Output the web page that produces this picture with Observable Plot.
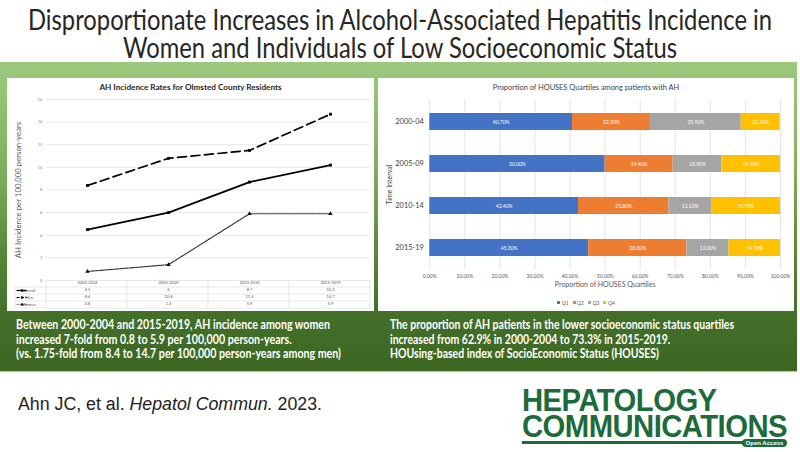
<!DOCTYPE html>
<html><head><meta charset="utf-8">
<script src="https://cdn.jsdelivr.net/npm/d3@7"></script>
<script src="https://cdn.jsdelivr.net/npm/@observablehq/plot@0.6"></script>
<style>
body{margin:0;background:#fff;}
#root{position:relative;width:800px;height:452px;overflow:hidden;background:#fff;font-family:Lato,"Open Sans",sans-serif;}
.panel{position:absolute;background:#fff;}
.panel svg{position:absolute;left:0;overflow:visible;}
</style></head><body><div id="root"></div>
<script>
// ---------- data ----------
const periods = ["2000-2004", "2005-2009", "2010-2014", "2015-2019"];
const seriesNames = ["Overall", "Men", "Women"];
const overall = [4.5, 6, 8.7, 10.2];
const men = [8.4, 10.8, 11.5, 14.7];
const women = [0.8, 1.4, 5.9, 5.9];
const yTicks = [0, 2, 4, 6, 8, 10, 12, 14, 16];

const intervals = ["2000-04", "2005-09", "2010-14", "2015-19"];
const quartiles = ["Q1", "Q2", "Q3", "Q4"];
const q1 = [40.7, 50.0, 42.4, 45.3];
const q2 = [22.2, 19.4, 25.8, 28.0];
const q3 = [25.9, 13.9, 12.1, 12.0];
const q4 = [11.1, 16.7, 19.7, 14.7];
const xTicks = [0, 10, 20, 30, 40, 50, 60, 70, 80, 90, 100];

// ---------- styles ----------
const lineStyles = {
  Overall: {stroke: "#000", strokeWidth: 1.7, strokeDasharray: null, symbol: "square"},
  Men: {stroke: "#000", strokeWidth: 1.7, strokeDasharray: "9,4.5", symbol: "square"},
  Women: {stroke: "#333", strokeWidth: 1.2, strokeDasharray: "1.2,1.1", symbol: "triangle"}
};
const qColors = ["#4472C4", "#ED7D31", "#A5A5A5", "#FFC000"];

const root = document.getElementById("root");
function el(tag, css, text, parent = root) {
  const e = document.createElement(tag);
  e.style.cssText = css;
  if (text != null) e.textContent = text;
  parent.appendChild(e);
  return e;
}

// ---------- title ----------
const tcss = "position:absolute;left:400px;white-space:nowrap;font:400 29px Lato;line-height:27px;color:#262626;transform-origin:center;";
const t1 = el("div", tcss + "top:5.3px;", "Disproportionate Increases in Alcohol-Associated Hepatitis Incidence in");
const t2 = el("div", tcss + "top:33.3px;", "Women and Individuals of Low Socioeconomic Status");

// ---------- green panel ----------
el("div", "position:absolute;left:0;top:62px;width:797px;height:309px;background:linear-gradient(to bottom,#9cc87e 0%,#98c47a 8%,#7fae60 35%,#5a8a3c 60%,#44702a 80%,#3c6723 100%);box-shadow:0 1px 1px rgba(0,0,0,0.25);");

// ---------- left chart ----------
const lp = el("div", "left:7px;top:78px;width:367px;height:233px;");
lp.className = "panel";
el("div", "position:absolute;left:0;top:4px;width:367px;text-align:center;font:700 8.2px Lato;color:#262626;",
  "AH Incidence Rates for Olmsted County Residents", lp);

const incidence = [];
[overall, men, women].forEach((arr, i) => arr.forEach((v, j) => incidence.push({series: seriesNames[i], period: periods[j], value: v})));

const LW = 367, LH = 220, LML = 39, LMR = 4, LMT = 8, LMB = 31;
const rowH = 7;

function tableDecor(index, scales, values, dim) {
  const g = d3.create("svg:g").attr("stroke", "#d9d9d9").attr("stroke-width", 0.6).attr("fill", "none");
  const y0 = dim.height - dim.marginBottom;
  const x0 = dim.marginLeft, x1 = dim.width - dim.marginRight;
  const step = (x1 - x0) / periods.length;
  const xl = 8;
  for (let r = 1; r <= 4; r++) g.append("line").attr("x1", xl).attr("x2", x1)
    .attr("y1", y0 + r * rowH).attr("y2", y0 + r * rowH);
  for (let c = 0; c <= periods.length; c++) g.append("line").attr("x1", x0 + c * step).attr("x2", x0 + c * step)
    .attr("y1", y0).attr("y2", y0 + 4 * rowH);
  g.append("line").attr("x1", xl).attr("x2", xl).attr("y1", y0 + rowH).attr("y2", y0 + 4 * rowH);
  seriesNames.forEach((s, i) => {
    const st = lineStyles[s];
    const yy = y0 + (i + 1.5) * rowH;
    g.append("line").attr("x1", xl + 1.5).attr("x2", xl + 12).attr("y1", yy).attr("y2", yy)
      .attr("stroke", st.stroke).attr("stroke-width", st.strokeWidth * 0.7).attr("stroke-dasharray", st.strokeDasharray ? (s === "Men" ? "3,1.5" : "0.8,0.8") : null);
    g.append("path").attr("d", d3.symbol(s === "Women" ? d3.symbolTriangle : d3.symbolSquare, 5)())
      .attr("transform", `translate(${xl + 7},${yy})`).attr("fill", "#000").attr("stroke", "none");
    g.append("text").attr("x", xl + 14).attr("y", yy).attr("dy", "0.35em").attr("fill", "#595959").attr("stroke", "none")
      .attr("font-size", 4).attr("font-family", "Lato").text(s);
  });
  return g.node();
}

const leftPlot = Plot.plot({
  width: LW, height: LH, marginLeft: LML, marginRight: LMR, marginTop: LMT, marginBottom: LMB,
  x: {type: "point", domain: periods, padding: 0.5, axis: null},
  y: {domain: [0, 16], axis: null},
  style: {fontFamily: "Lato", background: "transparent", overflow: "visible"},
  marks: [
    Plot.gridY(yTicks, {stroke: "#d9d9d9", strokeOpacity: 1, strokeWidth: 0.6}),
    Plot.axisY(yTicks, {tickSize: 0, tickPadding: 4, fontSize: 4.2, fill: "#8c8c8c", label: null}),
    Plot.text(["AH Incidence per 100,000 person-years"], {frameAnchor: "left", textAnchor: "middle", dx: -28, rotate: -90, fontSize: 7.8, fill: "#595959"}),
    ...seriesNames.map(s => Plot.line(incidence.filter(d => d.series === s), {
      x: "period", y: "value", stroke: lineStyles[s].stroke, strokeWidth: lineStyles[s].strokeWidth,
      strokeDasharray: lineStyles[s].strokeDasharray
    })),
    ...seriesNames.map(s => Plot.dot(incidence.filter(d => d.series === s), {
      x: "period", y: "value", symbol: lineStyles[s].symbol, r: 1.6, fill: "#000"
    })),
    tableDecor,
    Plot.text(periods, {x: d => d, frameAnchor: "bottom", dy: rowH * 0.5, fontSize: 4, fill: "#595959"}),
    ...seriesNames.map((s, i) => Plot.text(incidence.filter(d => d.series === s), {
      x: "period", text: d => String(d.value), frameAnchor: "bottom", dy: rowH * (i + 1.5), fontSize: 4, fill: "#595959"
    }))
  ]
});
leftPlot.style.top = "13px";
lp.appendChild(leftPlot);

// ---------- right chart ----------
const rp = el("div", "left:378px;top:78px;width:416px;height:233px;");
rp.className = "panel";
el("div", "position:absolute;left:0;top:4.5px;width:416px;text-align:center;font:400 7.4px Lato;color:#404040;",
  "Proportion of HOUSES Quartiles among patients with AH", rp);

const houses = [];
intervals.forEach((iv, i) => [q1, q2, q3, q4].forEach((arr, k) => houses.push({interval: iv, quartile: quartiles[k], value: arr[i]})));

const rightPlot = Plot.plot({
  width: 416, height: 201, marginLeft: 51.3, marginRight: 14, marginTop: 4.25, marginBottom: 26.75,
  x: {domain: [0, 100], axis: null},
  y: {type: "band", domain: intervals, paddingInner: 0.6, paddingOuter: 0.3, axis: null},
  color: {domain: quartiles, range: qColors},
  style: {fontFamily: "Lato", background: "transparent", overflow: "visible"},
  marks: [
    Plot.gridX(xTicks, {stroke: "#d9d9d9", strokeOpacity: 1, strokeWidth: 0.7}),
    Plot.barX(houses, Plot.stackX({x: "value", y: "interval", fill: "quartile"})),
    Plot.text(houses, Plot.stackX({x: "value", y: "interval", text: d => d.value.toFixed(2) + "%", fill: "white", fontSize: 5})),
    Plot.axisX(xTicks, {tickSize: 0, tickPadding: 5, fontSize: 5, fill: "#595959", tickFormat: d => d.toFixed(2) + "%", label: null}),
    Plot.axisY({tickSize: 0, tickPadding: 6, fontSize: 7.4, fill: "#404040", label: null}),
    Plot.text(["Proportion of HOUSES Quartiles"], {frameAnchor: "bottom", dy: 17.5, fontSize: 7, fill: "#595959"}),
    Plot.text(["Time Interval"], {frameAnchor: "left", textAnchor: "middle", dx: -40.3, rotate: -90, fontSize: 7, fill: "#404040"})
  ]
});
rightPlot.style.top = "17px";
rp.appendChild(rightPlot);

// legend
const leg = el("div", "position:absolute;left:0;top:221px;width:416px;text-align:center;font:400 5px Lato;color:#595959;", null, rp);
quartiles.forEach((q, i) => {
  const item = el("span", "display:inline-block;margin:0 2px;", null, leg);
  el("span", `display:inline-block;width:3px;height:3px;background:${qColors[i]};margin-right:1.5px;vertical-align:middle;`, null, item);
  el("span", "vertical-align:middle;", q, item);
});

// ---------- bottom text ----------
function block(left, top, lines, target) {
  const spans = lines.map((t, i) => el("div", `position:absolute;left:${left}px;top:${top + i * 14.6}px;white-space:nowrap;font:700 12.5px Lato;line-height:14px;color:#fff;transform-origin:left center;`, t));
  const s = target / spans[0].getBoundingClientRect().width;
  spans.forEach(sp => sp.style.transform = `scaleX(${s})`);
}
block(16, 318, ["Between 2000-2004 and 2015-2019, AH incidence among women",
  "increased 7-fold from 0.8 to 5.9 per 100,000 person-years.",
  "(vs. 1.75-fold from 8.4 to 14.7 per 100,000 person-years among men)"], 314);
block(390, 318, ["The proportion of AH patients in the lower socioeconomic status quartiles",
  "increased from 62.9% in 2000-2004 to 73.3% in 2015-2019.",
  "HOUsing-based index of SocioEconomic Status (HOUSES)"], 344);

// ---------- citation ----------
const cit = el("div", "position:absolute;left:18px;top:394px;white-space:nowrap;font:400 18px 'Liberation Sans';color:#222;transform-origin:left center;");
cit.innerHTML = "Ahn JC, et al. <i>Hepatol Commun.</i> 2023.";
cit.style.transform = `scaleX(${304 / cit.getBoundingClientRect().width})`;

// ---------- logo ----------
const green = "#1d6b3a";
const logo = el("div", `position:absolute;left:522px;top:386.8px;white-space:nowrap;font:700 32px 'Liberation Sans';color:${green};line-height:26px;transform-origin:left top;letter-spacing:-0.6px;`);
logo.innerHTML = "HEPATOLOGY<br>COMMUNICATIONS";
logo.style.transform = `scaleX(${265 / logo.getBoundingClientRect().width})`;
el("div", `position:absolute;left:522px;top:441px;width:221px;height:2.5px;background:${green};`);
el("div", `position:absolute;left:742px;top:439px;width:45px;height:8px;border-radius:4.5px;background:${green};color:#fff;font:700 6px 'Liberation Sans';line-height:8px;text-align:center;`, "Open Access");

// fit title
const ts = 744 / t1.getBoundingClientRect().width;
t1.style.transform = `translateX(-50%) scaleX(${ts})`;
t2.style.transform = `translateX(-50%) scaleX(${ts})`;
</script></body></html>
